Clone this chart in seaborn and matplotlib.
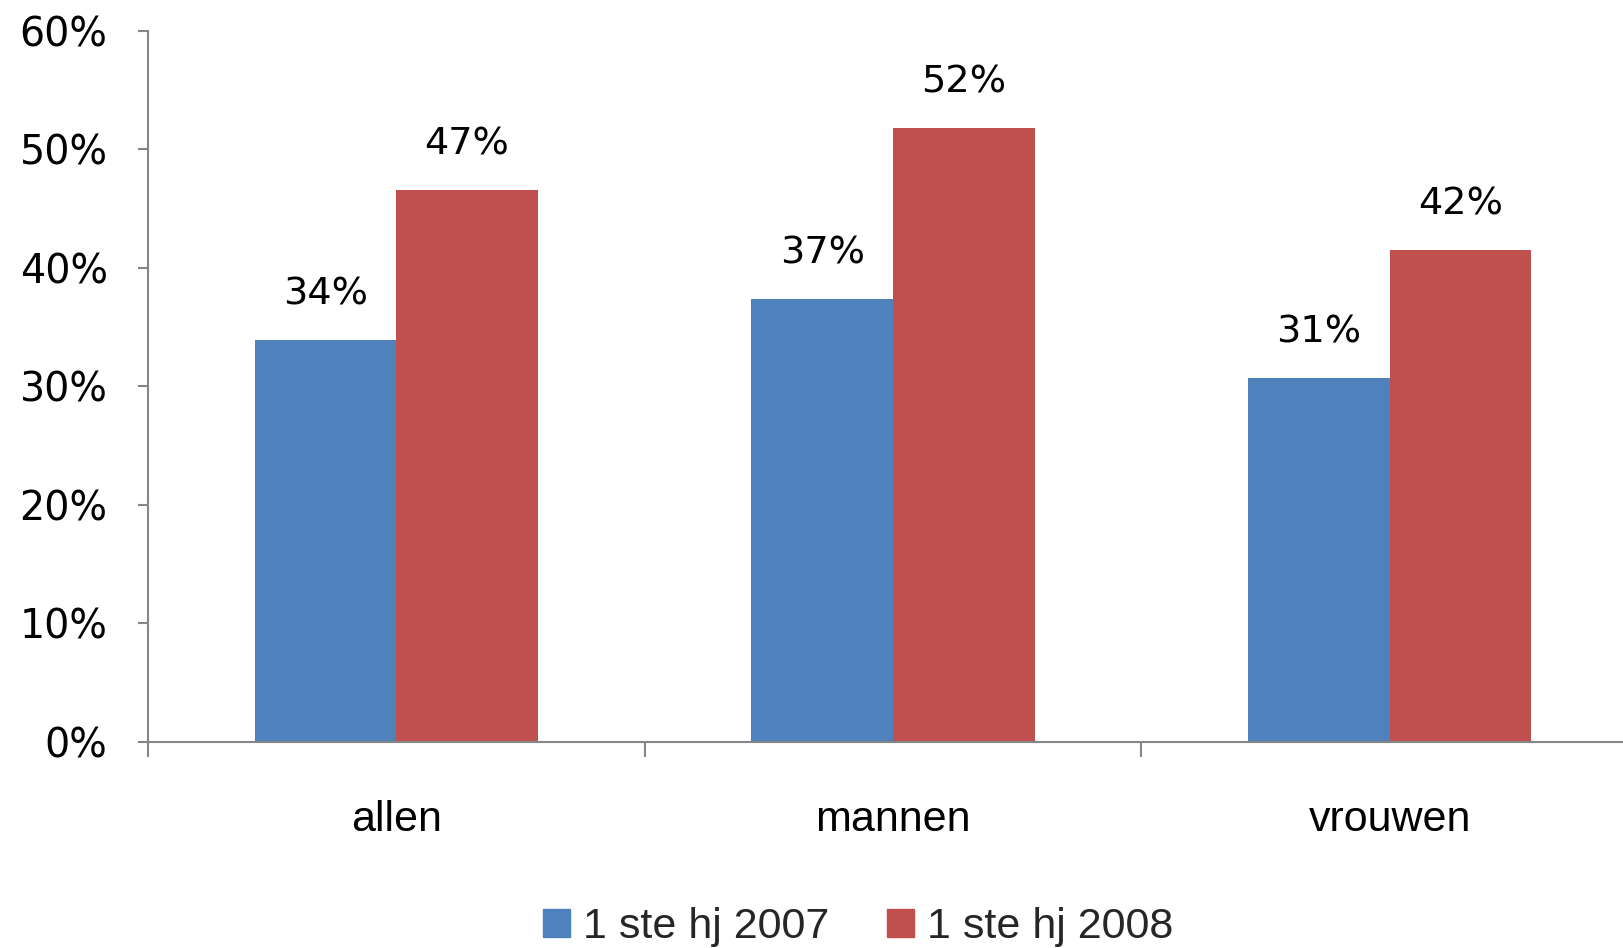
import pandas as pd
import seaborn as sns
import matplotlib.pyplot as plt
from matplotlib.ticker import FuncFormatter

# data
categories = ["allen", "mannen", "vrouwen"]
periods = ["1 ste hj 2007", "1 ste hj 2008"]
values_2007 = [33.9, 37.4, 30.7]
values_2008 = [46.6, 51.8, 41.5]
colors = ["#4F81BD", "#C0504D"]

data = pd.DataFrame({
    "groep": categories * 2,
    "periode": [periods[0]] * 3 + [periods[1]] * 3,
    "waarde": values_2007 + values_2008,
})

sns.set_style("white")
plt.rcParams["font.family"] = ["DejaVu Sans"]

fig = plt.figure(figsize=(16.23, 9.48), dpi=100)
ax = fig.add_axes([0.0912, 0.2173, 0.918, 0.7500])

sns.barplot(data=data, x="groep", y="waarde", hue="periode", hue_order=periods,
            palette=colors, saturation=1, width=0.57, dodge=True,
            legend=False, ax=ax, linewidth=0)

# value labels above the bars
for cont in ax.containers:
    labs = [f"{round(b.get_height())}%" for b in cont]
    ax.bar_label(cont, labels=labs, padding=20, fontsize=27.5, color="black")

ax.set_ylim(0, 60)
ax.set_xlim(-0.5, 2.5)
ax.set_yticks(range(0, 61, 10))
ax.yaxis.set_major_formatter(FuncFormatter(lambda v, p: f"{int(v)}%"))
ax.set_xlabel("")
ax.set_ylabel("")

spine_col = "#868686"
for s in ["top", "right"]:
    ax.spines[s].set_visible(False)
for s in ["left", "bottom"]:
    ax.spines[s].set_color(spine_col)
    ax.spines[s].set_linewidth(1.5)

ax.tick_params(axis="y", which="major", direction="out", length=7, width=1.5,
               color=spine_col, labelsize=28.5, labelcolor="black", pad=22, left=True)
# category boundaries as minor ticks, labels on major ticks without lines
ax.set_xticks([-0.5, 0.5, 1.5, 2.5], minor=True)
ax.tick_params(axis="x", which="minor", direction="out", length=11, width=1.5,
               color=spine_col, bottom=True)
ax.tick_params(axis="x", which="major", length=0, pad=42, labelcolor="black")
for t in ax.get_xticklabels():
    t.set_family(["Liberation Sans", "DejaVu Sans"])
    t.set_fontsize(31)

handles = [plt.Rectangle((0, 0), 1, 1, color=c) for c in colors]
fig.legend(handles, periods, loc="center", bbox_to_anchor=(858 / 1623, 0.022),
           ncol=2, frameon=False, handlelength=0.63, handleheight=0.63,
           handletextpad=0.3, columnspacing=1.35,
           prop={"family": ["Liberation Sans", "DejaVu Sans"], "size": 31})

fig.savefig("out.png", dpi=100)
